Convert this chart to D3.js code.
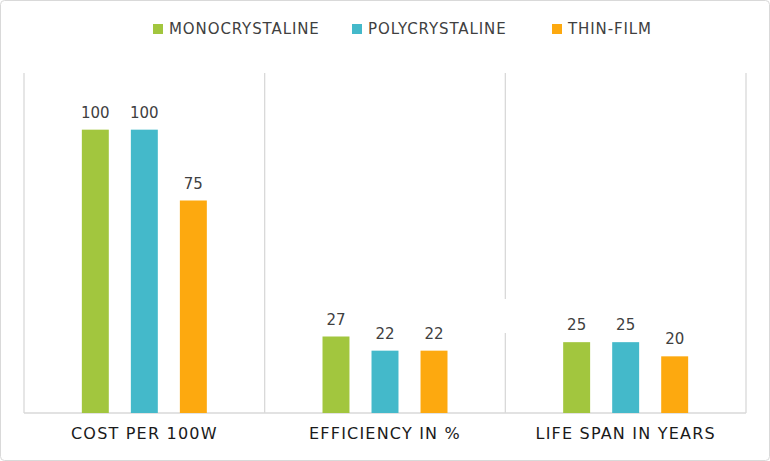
<!DOCTYPE html>
<html><head><meta charset="utf-8">
<script src="https://cdn.jsdelivr.net/npm/d3@7/dist/d3.min.js"></script>
<style>body{margin:0;background:#fff;font-family:"DejaVu Sans",Verdana,sans-serif;}</style>
</head><body><svg id="c" width="770" height="461"></svg>
<script>
const categories = ["COST PER 100W", "EFFICIENCY IN %", "LIFE SPAN IN YEARS"];
const seriesNames = ["MONOCRYSTALINE", "POLYCRYSTALINE", "THIN-FILM"];
const monocrystaline = [100, 27, 25];
const polycrystaline = [100, 22, 25];
const thinFilm = [75, 22, 20];
const colors = ["#A2C63E", "#44B9CA", "#FDA90F"];

const values = [monocrystaline, polycrystaline, thinFilm];
const svg = d3.select("#c");
svg.append("rect").attr("x",0.5).attr("y",0.5).attr("width",769).attr("height",460)
  .attr("rx",4).attr("fill","#fff").attr("stroke","#d9d9d9");

const plotL = 24, plotR = 746, plotT = 73, plotB = 413;
const x = d3.scaleBand().domain(categories).range([plotL, plotR]);
const x1 = d3.scaleBand().domain(seriesNames).range([0, x.bandwidth()]).paddingInner(0.45).paddingOuter(1.18);
const y = d3.scaleLinear().domain([0, 120]).range([plotB, plotT]);

// vertical separators
const seps = [plotL, ...categories.map(c => x(c) + x.bandwidth())];
svg.append("g").selectAll("line").data(seps).join("line")
  .attr("x1", d => d).attr("x2", d => d).attr("y1", plotT).attr("y2", plotB)
  .attr("stroke", "#d9d9d9").attr("stroke-width", 1.3);
// small gap on last inner separator
svg.append("rect").attr("x", seps[2]-2).attr("y", 299).attr("width", 4).attr("height", 34).attr("fill","#fff");

svg.append("line").attr("x1", plotL).attr("x2", plotR).attr("y1", plotB).attr("y2", plotB)
  .attr("stroke", "#d9d9d9").attr("stroke-width", 1.3);

const g = svg.append("g");
seriesNames.forEach((s, si) => {
  categories.forEach((c, ci) => {
    const v = values[si][ci];
    const bx = x(c) + x1(s);
    g.append("rect").attr("x", bx).attr("y", y(v)).attr("width", x1.bandwidth())
      .attr("height", y(0) - y(v)).attr("fill", colors[si]);
    g.append("text").attr("x", bx + x1.bandwidth()/2).attr("y", y(v) - 12)
      .attr("text-anchor","middle").attr("font-size", 15).attr("fill","#404040").text(v);
  });
});

// x axis labels
svg.append("g").selectAll("text").data(categories).join("text")
  .attr("x", d => x(d) + x.bandwidth()/2).attr("y", 439).attr("text-anchor","middle")
  .attr("font-size", 16).attr("letter-spacing", 1.2).attr("fill","#1a1a1a").text(d => d);

// legend
const legX = [153, 352, 552];
const lg = svg.append("g");
seriesNames.forEach((s, i) => {
  lg.append("rect").attr("x", legX[i]).attr("y", 24).attr("width", 10).attr("height", 10).attr("fill", colors[i]);
  lg.append("text").attr("x", legX[i] + 16).attr("y", 34).attr("font-size", 15).attr("letter-spacing", 0.9).attr("fill","#404040").text(s);
});
</script></body></html>
